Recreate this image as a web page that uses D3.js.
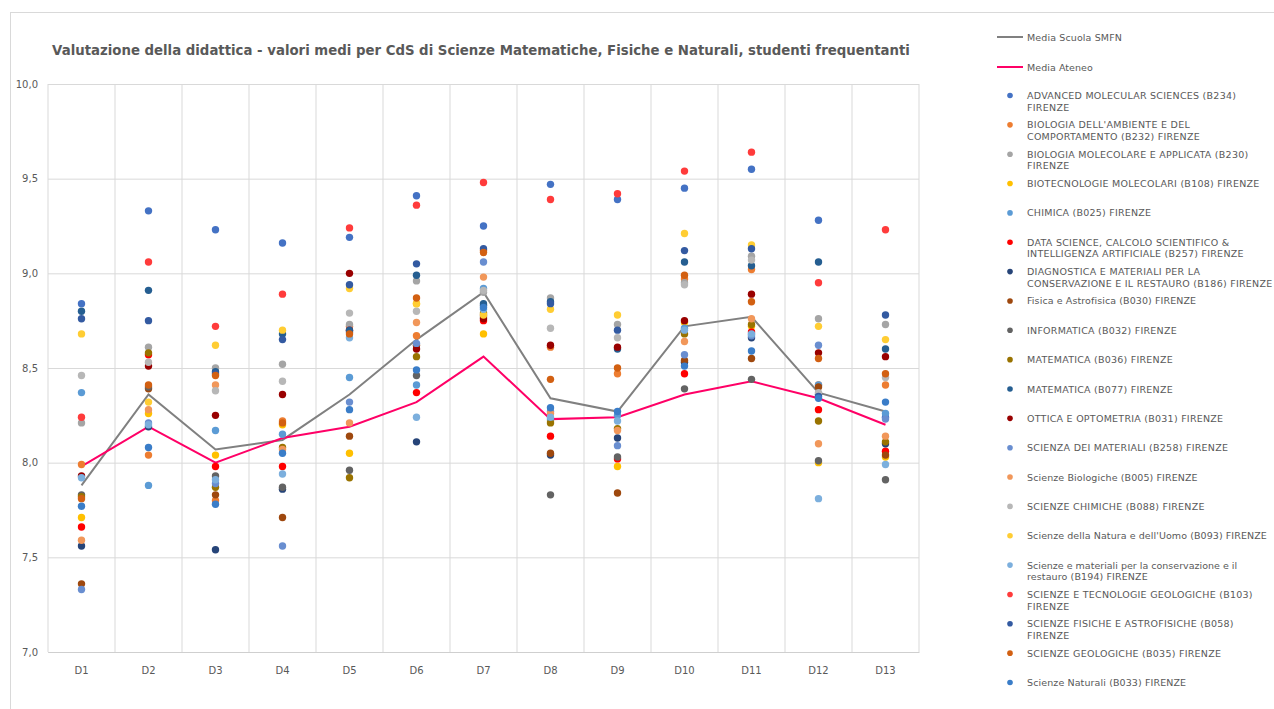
<!DOCTYPE html>
<html>
<head>
<meta charset="utf-8">
<script src="https://cdn.jsdelivr.net/npm/d3@7"></script>
<style>
  body { margin: 0; background: #fff; }
  text { font-family: "DejaVu Sans", Verdana, sans-serif; fill: #595959; }
</style>
</head>
<body>
<div class="chart"></div>
<script>

var categories = ["D1", "D2", "D3", "D4", "D5", "D6", "D7", "D8", "D9", "D10", "D11", "D12", "D13"];

var yTicks = [7.0, 7.5, 8.0, 8.5, 9.0, 9.5, 10.0];

// medie (linee)
var mediaScuola = [7.88, 8.36, 8.07, 8.12, 8.36, 8.65, 8.90, 8.34, 8.27, 8.72, 8.77, 8.37, 8.27];
var mediaAteneo = [7.98, 8.19, 8.00, 8.13, 8.19, 8.32, 8.56, 8.23, 8.24, 8.36, 8.43, 8.34, 8.20];

// corsi di studio (punti); "\n" = a capo nella legenda
var courseNames = [
  "ADVANCED MOLECULAR SCIENCES (B234)\nFIRENZE",
  "BIOLOGIA DELL'AMBIENTE E DEL\nCOMPORTAMENTO (B232) FIRENZE",
  "BIOLOGIA MOLECOLARE E APPLICATA (B230)\nFIRENZE",
  "BIOTECNOLOGIE MOLECOLARI (B108) FIRENZE",
  "CHIMICA (B025) FIRENZE",
  "DATA SCIENCE, CALCOLO SCIENTIFICO &\nINTELLIGENZA ARTIFICIALE (B257) FIRENZE",
  "DIAGNOSTICA E MATERIALI PER LA\nCONSERVAZIONE E IL RESTAURO (B186) FIRENZE",
  "Fisica e Astrofisica (B030) FIRENZE",
  "INFORMATICA (B032) FIRENZE",
  "MATEMATICA (B036) FIRENZE",
  "MATEMATICA (B077) FIRENZE",
  "OTTICA E OPTOMETRIA (B031) FIRENZE",
  "SCIENZA DEI MATERIALI (B258) FIRENZE",
  "Scienze Biologiche (B005) FIRENZE",
  "SCIENZE CHIMICHE (B088) FIRENZE",
  "Scienze della Natura e dell'Uomo (B093) FIRENZE",
  "Scienze e materiali per la conservazione e il\nrestauro (B194) FIRENZE",
  "SCIENZE E TECNOLOGIE GEOLOGICHE (B103)\nFIRENZE",
  "SCIENZE FISICHE E ASTROFISICHE (B058)\nFIRENZE",
  "SCIENZE GEOLOGICHE (B035) FIRENZE",
  "Scienze Naturali (B033) FIRENZE"
];

var courseValues = [
  [8.84, 9.33, 9.23, 9.16, 9.19, 9.41, 9.25, 9.47, 9.39, 9.45, 9.55, 9.28, 8.24],
  [7.99, 8.04, 7.80, 8.22, 8.72, 8.67, 9.12, 8.61, 8.47, 8.97, 9.02, 8.41, 8.41],
  [8.21, 8.61, 8.50, 8.52, 8.73, 8.96, 8.90, 8.87, 8.73, 8.95, 9.09, 8.76, 8.73],
  [7.71, 8.26, 8.04, 8.20, 8.05, 8.84, 8.68, 8.22, 7.98, 8.74, 8.72, 8.00, 8.03],
  [8.37, 7.88, 8.17, 8.15, 8.45, 8.41, 8.92, 8.23, 8.25, 8.71, 8.68, 8.41, 8.26],
  [7.66, 8.57, 7.98, 7.98, 8.70, 8.37, 8.75, 8.14, 8.02, 8.47, 8.69, 8.28, 8.06],
  [7.56, 8.19, 7.54, 7.86, 8.69, 8.11, 8.83, 8.04, 8.13, 8.53, 8.66, 8.36, 8.10],
  [7.36, 8.39, 7.83, 7.71, 8.14, 8.62, 8.78, 8.05, 7.84, 8.54, 8.55, 8.40, 8.04],
  [7.83, 8.40, 7.93, 7.87, 7.96, 8.46, 8.77, 7.83, 8.03, 8.39, 8.44, 8.01, 7.91],
  [7.82, 8.58, 7.87, 8.08, 7.92, 8.56, 8.79, 8.21, 8.18, 8.68, 8.73, 8.22, 8.11],
  [8.80, 8.91, 8.48, 8.68, 8.70, 8.99, 8.84, 8.85, 8.60, 9.06, 9.04, 9.06, 8.60],
  [7.93, 8.51, 8.25, 8.36, 9.00, 8.60, 8.76, 8.62, 8.61, 8.75, 8.89, 8.58, 8.56],
  [7.33, 8.21, 7.89, 7.56, 8.32, 8.63, 9.06, 8.27, 8.09, 8.57, 8.67, 8.62, 8.23],
  [7.59, 8.28, 8.41, 8.07, 8.21, 8.74, 8.98, 8.26, 8.17, 8.64, 8.76, 8.10, 8.14],
  [8.46, 8.53, 8.38, 8.43, 8.79, 8.80, 8.91, 8.71, 8.66, 8.94, 9.07, 8.37, 8.45],
  [8.68, 8.32, 8.62, 8.70, 8.92, 8.84, 8.78, 8.81, 8.78, 9.21, 9.15, 8.72, 8.65],
  [7.92, 8.20, 7.91, 7.94, 8.66, 8.24, 8.81, 8.24, 8.22, 8.70, 8.68, 7.81, 7.99],
  [8.24, 9.06, 8.72, 8.89, 9.24, 9.36, 9.48, 9.39, 9.42, 9.54, 9.64, 8.95, 9.23],
  [8.76, 8.75, 8.47, 8.65, 8.94, 9.05, 9.13, 8.84, 8.70, 9.12, 9.13, 8.35, 8.78],
  [7.81, 8.41, 8.46, 8.21, 8.68, 8.87, 9.11, 8.44, 8.50, 8.99, 8.85, 8.55, 8.47],
  [7.77, 8.08, 7.78, 8.05, 8.28, 8.49, 8.82, 8.29, 8.27, 8.51, 8.59, 8.34, 8.32]
];

var courseColors = ["#4472C4", "#ED7D31", "#A5A5A5", "#FFC000", "#5B9BD5", "#FF0000", "#264478",
  "#9E480E", "#636363", "#997300", "#255E91", "#990000", "#698ED0", "#F1975A", "#B7B7B7",
  "#FFCD33", "#7CAFDD", "#FF3B3B", "#335AA1", "#D26012", "#3A7DC8"];

var W = 1274, H = 709;
var plot = { left: 48, right: 919, top: 84, bottom: 652 };

var svg = d3.select('.chart').append('svg')
  .attr('width', W)
  .attr('height', H);

// cornice del grafico
svg.append('rect')
  .attr('x', 10.5)
  .attr('y', 12.5)
  .attr('width', W + 20)
  .attr('height', H + 20)
  .style('fill', 'none')
  .style('stroke', '#d9d9d9');

svg.append('text')
  .attr('x', 481)
  .attr('y', 55)
  .style('text-anchor', 'middle')
  .style('font-size', '13.3px')
  .style('font-weight', 'bold')
  .text('Valutazione della didattica - valori medi per CdS di Scienze Matematiche, Fisiche e Naturali, studenti frequentanti');

var x = d3.scaleBand()
  .domain(categories)
  .range([plot.left, plot.right]);

var y = d3.scaleLinear()
  .domain([7, 10])
  .range([plot.bottom, plot.top]);

var cx = function (i) { return x(categories[i]) + x.bandwidth() / 2; };

// griglia orizzontale
var yAxis = d3.axisLeft(y)
  .tickValues(yTicks)
  .tickSize(-(plot.right - plot.left))
  .tickPadding(10)
  .tickFormat(function (d) { return d3.format('.1f')(d).replace('.', ','); });

var gy = svg.append('g')
  .attr('transform', 'translate(' + plot.left + ',0)')
  .call(yAxis);
gy.select('.domain').remove();
gy.selectAll('line').attr('stroke', '#d9d9d9');
gy.selectAll('text')
  .style('font-size', '10px')
  .attr('fill', '#595959');

// griglia verticale (bordi delle categorie)
svg.append('g').selectAll('line')
  .data(categories.concat(['end']))
  .enter().append('line')
  .attr('x1', function (d, i) { return i < categories.length ? x(d) : plot.right; })
  .attr('x2', function (d, i) { return i < categories.length ? x(d) : plot.right; })
  .attr('y1', plot.top)
  .attr('y2', plot.bottom)
  .attr('stroke', '#d9d9d9');

var xAxis = d3.axisBottom(x).tickSize(0).tickPadding(15);
var gx = svg.append('g')
  .attr('transform', 'translate(0,' + plot.bottom + ')')
  .call(xAxis);
gx.select('.domain').attr('stroke', '#cfcfcf');
gx.selectAll('text')
  .style('font-size', '10px')
  .attr('fill', '#595959');

// linee delle medie
var line = d3.line()
  .x(function (d, i) { return cx(i); })
  .y(function (d) { return y(d); });

svg.append('path')
  .datum(mediaScuola)
  .attr('d', line)
  .style('fill', 'none')
  .style('stroke', '#808080')
  .style('stroke-width', 2);

svg.append('path')
  .datum(mediaAteneo)
  .attr('d', line)
  .style('fill', 'none')
  .style('stroke', '#FF0066')
  .style('stroke-width', 2);

// punti dei corsi
courseValues.forEach(function (vals, s) {
  svg.append('g').selectAll('circle')
    .data(vals)
    .enter().append('circle')
    .attr('cx', function (d, i) { return cx(i); })
    .attr('cy', function (d) { return y(d); })
    .attr('r', 3.7)
    .style('fill', courseColors[s]);
});

// legenda
var legend = svg.append('g');

// le maiuscole nel riferimento sono piu' larghe: un po' di spaziatura in proporzione
function spacing(str) {
  var up = str.replace(/[^A-Z]/g, '').length;
  return (0.3 * up / Math.max(1, str.replace(/ /g, '').length)) + 'px';
}

function legendText(str, yy) {
  var t = legend.append('text')
    .attr('x', 1027)
    .attr('y', yy + 3.5)
    .style('font-size', '9.5px');
  str.split('\n').forEach(function (part, k) {
    t.append('tspan')
      .attr('x', 1027)
      .attr('dy', k === 0 ? 0 : 11.7)
      .style('letter-spacing', spacing(part))
      .text(part);
  });
}

var lineItems = [["Media Scuola SMFN", "#808080", 37], ["Media Ateneo", "#FF0066", 67]];
lineItems.forEach(function (it) {
  legend.append('line')
    .attr('x1', 997).attr('x2', 1023)
    .attr('y1', it[2]).attr('y2', it[2])
    .style('stroke', it[1])
    .style('stroke-width', 2);
  legendText(it[0], it[2]);
});

courseNames.forEach(function (name, s) {
  var yy = 95.5 + s * 29.35;
  legend.append('circle')
    .attr('cx', 1010)
    .attr('cy', yy)
    .attr('r', 2.8)
    .style('fill', courseColors[s]);
  legendText(name, yy);
});

</script>
</body>
</html>
